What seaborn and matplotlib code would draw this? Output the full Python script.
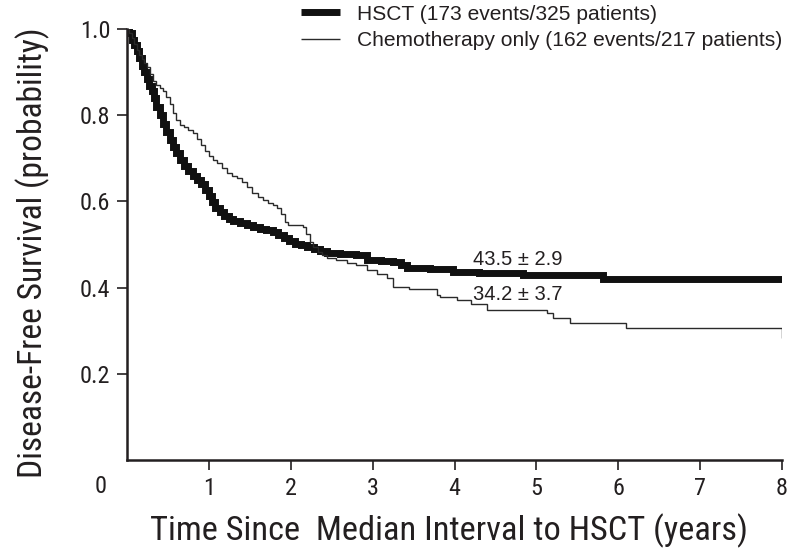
import matplotlib
matplotlib.use("Agg")
import matplotlib.pyplot as plt
from matplotlib import font_manager as fm
import seaborn as sns
import pandas as pd

# Kaplan-Meier step estimates (time in years, disease-free survival probability)
hsct_time = [0, 0.03, 0.06, 0.09, 0.12, 0.15, 0.18, 0.21, 0.24, 0.27, 0.30, 0.33,
             0.36, 0.40, 0.44, 0.48, 0.52, 0.56, 0.60, 0.65, 0.70, 0.75, 0.80,
             0.85, 0.90, 0.95, 1.00, 1.04, 1.08, 1.13, 1.18, 1.24, 1.30, 1.38,
             1.46, 1.54, 1.62, 1.70, 1.78, 1.85, 1.92, 1.98, 2.05, 2.12, 2.20,
             2.28, 2.36, 2.44, 2.60, 2.80, 2.93, 3.10, 3.25, 3.35, 3.42, 3.70,
             3.98, 4.30, 4.84, 5.81, 8.00]
hsct_surv = [1.0, 0.990, 0.975, 0.962, 0.948, 0.933, 0.915, 0.900, 0.884, 0.868,
             0.855, 0.840, 0.818, 0.800, 0.780, 0.760, 0.742, 0.727, 0.713, 0.697,
             0.683, 0.670, 0.660, 0.650, 0.641, 0.627, 0.612, 0.598, 0.585, 0.575,
             0.567, 0.560, 0.554, 0.549, 0.545, 0.540, 0.536, 0.533, 0.529, 0.522,
             0.514, 0.507, 0.502, 0.498, 0.494, 0.489, 0.485, 0.481, 0.479, 0.476,
             0.465, 0.461, 0.459, 0.452, 0.445, 0.443, 0.436, 0.433, 0.429, 0.420,
             0.420]

chemo_time = [0, 0.03, 0.06, 0.09, 0.12, 0.15, 0.18, 0.21, 0.24, 0.28, 0.32, 0.36,
              0.40, 0.44, 0.48, 0.52, 0.56, 0.60, 0.65, 0.70, 0.75, 0.80, 0.85,
              0.90, 0.95, 1.00, 1.05, 1.10, 1.16, 1.22, 1.28, 1.34, 1.40, 1.47,
              1.53, 1.60, 1.66, 1.72, 1.78, 1.83, 1.88, 1.93, 1.97, 2.15, 2.19,
              2.23, 2.27, 2.33, 2.38, 2.44, 2.55, 2.69, 2.80, 2.93, 3.05, 3.17,
              3.25, 3.45, 3.79, 3.82, 4.03, 4.20, 4.40, 5.13, 5.20, 5.41, 6.10,
              8.00, 8.00]
chemo_surv = [1.0, 0.990, 0.978, 0.965, 0.952, 0.940, 0.930, 0.922, 0.912, 0.895,
              0.880, 0.870, 0.864, 0.856, 0.842, 0.825, 0.806, 0.788, 0.778, 0.772,
              0.766, 0.759, 0.745, 0.730, 0.716, 0.705, 0.697, 0.689, 0.677, 0.666,
              0.660, 0.655, 0.645, 0.633, 0.620, 0.610, 0.603, 0.597, 0.592, 0.585,
              0.570, 0.552, 0.545, 0.541, 0.525, 0.505, 0.494, 0.482, 0.475, 0.469,
              0.464, 0.457, 0.452, 0.441, 0.432, 0.422, 0.401, 0.396, 0.383, 0.378,
              0.371, 0.362, 0.348, 0.341, 0.329, 0.318, 0.306, 0.306, 0.283]

series_labels = ["HSCT (173 events/325 patients)",
                 "Chemotherapy only (162 events/217 patients)"]
annot_texts = ["43.5 \u00b1 2.9", "34.2 \u00b1 3.7"]
x_ticks = [1, 2, 3, 4, 5, 6, 7, 8]
y_ticks = [0.2, 0.4, 0.6, 0.8, 1.0]


def pick_narrow_font():
    """Return (family, stretch) for a condensed face, best available first."""
    names = {f.name for f in fm.fontManager.ttflist}
    for fam in ("Liberation Sans Narrow", "Roboto Condensed", "Arial Narrow"):
        if fam in names:
            return fam, "normal"
    path = fm.findfont(fm.FontProperties(family="DejaVu Sans", stretch="condensed"),
                       fallback_to_default=False)
    if "Condensed" in path:
        return "DejaVu Sans", "condensed"
    return "Roboto", "normal"


sns.set_theme(style="ticks")
narrow_family, narrow_stretch = pick_narrow_font()
plain = ["Liberation Sans", "DejaVu Sans"]
plt.rcParams["font.family"] = [narrow_family, "DejaVu Sans"]
plt.rcParams["font.stretch"] = narrow_stretch
ink = "#231f20"

hsct = pd.DataFrame({"t": hsct_time, "s": hsct_surv})
chemo = pd.DataFrame({"t": chemo_time, "s": chemo_surv})

fig = plt.figure(figsize=(8.02, 5.55), dpi=100)
ax = fig.add_axes([127 / 802, 1 - 460 / 555, 655 / 802, 431 / 555])

sns.lineplot(data=hsct, x="t", y="s", ax=ax, estimator=None, sort=False,
             drawstyle="steps-post", color="#111111", linewidth=5.0,
             solid_joinstyle="miter", solid_capstyle="butt",
             label=series_labels[0])
sns.lineplot(data=chemo, x="t", y="s", ax=ax, estimator=None, sort=False,
             drawstyle="steps-post", color="#2a2a2a", linewidth=1.0,
             solid_joinstyle="miter", solid_capstyle="butt",
             label=series_labels[1])

ax.set_xlim(0, 8)
ax.set_ylim(0, 1.0)
ax.set_xticks(x_ticks)
ax.set_yticks(y_ticks)
ax.set_xticklabels([str(v) for v in x_ticks])
ax.set_yticklabels([f"{v:.1f}" for v in y_ticks])
ax.tick_params(axis="both", direction="out", length=7, width=1.2,
               colors=ink, labelsize=17.5, pad=5)
for side in ("top", "right"):
    ax.spines[side].set_visible(False)
for side in ("left", "bottom"):
    ax.spines[side].set_linewidth(1.8)
    ax.spines[side].set_color(ink)
    ax.spines[side].set_clip_on(False)

# shared origin label
ax.text(-0.041, -0.062, "0", transform=ax.transAxes, ha="center", va="center",
        fontsize=17.5, color=ink)

xlab = ax.set_xlabel("Time Since  Median Interval to HSCT (years)", fontsize=22,
                     color=ink)
ylab = ax.set_ylabel("Disease-Free Survival (probability)", fontsize=20,
                     color=ink)

# size the axis titles to their target extent in pixels
renderer = fig.canvas.get_renderer()
w = xlab.get_window_extent(renderer).width
xlab.set_fontsize(22 * 598 / w)
h = ylab.get_window_extent(renderer).height
ylab.set_fontsize(20 * 450 / h)
ax.xaxis.set_label_coords((449 - 127) / 655, -(514 - 460) / 431)
ax.yaxis.set_label_coords(-(127 - 50) / 655, 0.48)

ax.text(4.22, 0.465, annot_texts[0], fontsize=14.5, color=ink, family=plain,
        va="center", ha="left")
ax.text(4.22, 0.385, annot_texts[1], fontsize=14.5, color=ink, family=plain,
        va="center", ha="left")

leg = ax.legend(loc="upper right", bbox_to_anchor=(791 / 802, 1.007),
                bbox_transform=fig.transFigure, frameon=False,
                prop={"family": plain, "size": 15.1}, handlelength=1.86,
                handletextpad=0.85, labelspacing=0.36, borderaxespad=0.0)
for txt in leg.get_texts():
    txt.set_color(ink)

fig.savefig("out.png", dpi=100)
